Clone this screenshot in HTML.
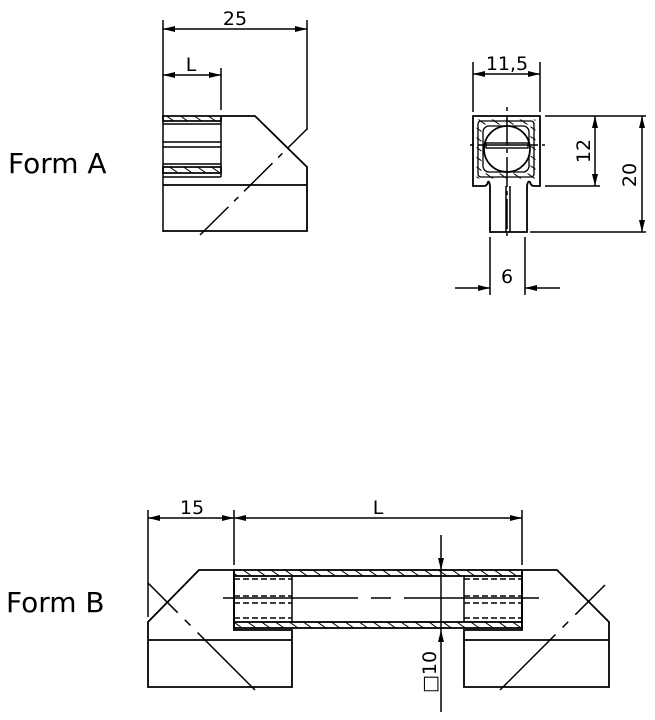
<!DOCTYPE html>
<html><head><style>
html,body{margin:0;padding:0;background:#fff;}
svg{display:block;}
text{font-family:"DejaVu Sans","Liberation Sans",sans-serif;fill:#000;}
</style></head><body>
<svg width="655" height="720" viewBox="0 0 655 720" xmlns="http://www.w3.org/2000/svg">
<defs>
<marker id="a" viewBox="0 0 12 6" refX="12" refY="3" markerWidth="12" markerHeight="6" orient="auto-start-reverse" markerUnits="userSpaceOnUse"><path d="M0,0L12,3L0,6z" fill="#000"/></marker>
<pattern id="h" width="8" height="8" patternUnits="userSpaceOnUse" patternTransform="rotate(-55)"><line x1="0" y1="0" x2="0" y2="8" stroke="#000" stroke-width="2"/></pattern>
</defs>
<g stroke="#000" fill="none" stroke-width="1.5">
<!-- FORM A side -->
<line x1="163" y1="20" x2="163" y2="232"/>
<line x1="307" y1="20" x2="307" y2="130"/>
<line x1="163" y1="29" x2="307" y2="29" marker-start="url(#a)" marker-end="url(#a)"/>
<line x1="221" y1="68" x2="221" y2="110"/>
<line x1="163" y1="75" x2="221" y2="75" marker-start="url(#a)" marker-end="url(#a)"/>
<rect x="163" y="116" width="58" height="5" fill="url(#h)" stroke-width="1.7"/>
<line x1="163" y1="124" x2="221" y2="124"/>
<line x1="163" y1="142" x2="221" y2="142"/>
<line x1="163" y1="147" x2="221" y2="147"/>
<line x1="163" y1="164" x2="221" y2="164"/>
<rect x="163" y="167" width="58" height="6" fill="url(#h)" stroke-width="1.7"/>
<line x1="163" y1="177" x2="221" y2="177"/>
<line x1="221" y1="116" x2="221" y2="177"/>
<polyline points="221,116 255,116 307,167 307,231 163,231" stroke-width="1.8"/>
<line x1="163" y1="185" x2="307" y2="185" stroke-width="1.8"/>
<line x1="200" y1="235" x2="307" y2="129" stroke-dasharray="40,8,6,8"/>
<!-- FORM A end view -->
<line x1="473" y1="62" x2="473" y2="112"/>
<line x1="540" y1="62" x2="540" y2="112"/>
<line x1="473" y1="74" x2="540" y2="74" marker-start="url(#a)" marker-end="url(#a)"/>
<path d="M479,122h54v54h-54z" stroke-width="5" stroke="url(#h)"/>
<rect x="478" y="121" width="56" height="56" rx="3" stroke-width="1.3"/>
<rect x="483" y="126" width="46" height="46" rx="6" stroke-width="1.3"/>
<circle cx="507" cy="149" r="23" fill="#fff" stroke-width="1.7"/>
<rect x="486" y="143" width="42" height="5" stroke-width="1.4"/>
<line x1="507" y1="107" x2="507" y2="236" stroke-dasharray="4,4,30,4"/>
<line x1="470" y1="145" x2="545" y2="145" stroke-dasharray="4,4,60,4"/>
<path d="M473,116H540V186H534Q531,186 530,182Q528,180 527,186V232H490V186Q489,180 488,182Q487,186 484,186H473Z" stroke-width="1.8"/>
<line x1="506" y1="186" x2="506" y2="232"/>
<line x1="510" y1="186" x2="510" y2="232"/>
<line x1="545" y1="116" x2="646" y2="116"/>
<line x1="545" y1="186" x2="600" y2="186"/>
<line x1="530" y1="232" x2="646" y2="232"/>
<line x1="595" y1="116" x2="595" y2="186" marker-start="url(#a)" marker-end="url(#a)"/>
<line x1="642" y1="116" x2="642" y2="232" marker-start="url(#a)" marker-end="url(#a)"/>
<line x1="490" y1="237" x2="490" y2="295"/>
<line x1="525" y1="237" x2="525" y2="295"/>
<line x1="455" y1="288" x2="490" y2="288" marker-end="url(#a)"/>
<line x1="560" y1="288" x2="525" y2="288" marker-end="url(#a)"/>
<!-- FORM B -->
<line x1="148" y1="510" x2="148" y2="617"/>
<line x1="234" y1="510" x2="234" y2="565"/>
<line x1="522" y1="510" x2="522" y2="565"/>
<line x1="148" y1="518" x2="234" y2="518" marker-start="url(#a)" marker-end="url(#a)"/>
<line x1="234" y1="518" x2="522" y2="518" marker-start="url(#a)" marker-end="url(#a)"/>
<path d="M234,570H199L148,622V687H292V630H234Z" stroke-width="1.8"/>
<path d="M522,570H557L609,622V687H464V630H522Z" stroke-width="1.8"/>
<line x1="148" y1="640" x2="292" y2="640" stroke-width="1.8"/>
<line x1="464" y1="640" x2="609" y2="640" stroke-width="1.8"/>
<rect x="234" y="570" width="288" height="6" fill="url(#h)" stroke-width="1.8"/>
<rect x="234" y="622" width="288" height="6" fill="url(#h)" stroke-width="1.8"/>
<line x1="234" y1="576" x2="234" y2="622" stroke-width="1.8"/>
<line x1="522" y1="576" x2="522" y2="622" stroke-width="1.8"/>
<line x1="292" y1="576" x2="292" y2="622"/>
<line x1="464" y1="576" x2="464" y2="622"/>
<g stroke-dasharray="6,3">
<line x1="234" y1="579" x2="292" y2="579"/><line x1="234" y1="596" x2="292" y2="596"/>
<line x1="234" y1="603" x2="292" y2="603"/><line x1="234" y1="618" x2="292" y2="618"/>
<line x1="464" y1="579" x2="522" y2="579"/><line x1="464" y1="596" x2="522" y2="596"/>
<line x1="464" y1="603" x2="522" y2="603"/><line x1="464" y1="618" x2="522" y2="618"/>
</g>
<line x1="223" y1="598" x2="539" y2="598" stroke-dasharray="135,13,20,13"/>
<line x1="441" y1="535" x2="441" y2="570" marker-end="url(#a)"/>
<line x1="441" y1="570" x2="441" y2="630"/>
<line x1="441" y1="712" x2="441" y2="630" marker-end="url(#a)"/>
<line x1="148" y1="583" x2="255" y2="690" stroke-dasharray="42,10,8,10,90"/>
<line x1="605" y1="585" x2="500" y2="690" stroke-dasharray="42,10,8,10,90"/>
</g>
<text x="235" y="25" font-size="19" text-anchor="middle">25</text>
<text x="191" y="71" font-size="19" text-anchor="middle">L</text>
<text x="507" y="70" font-size="19" text-anchor="middle">11,5</text>
<text x="507" y="283" font-size="19" text-anchor="middle">6</text>
<text transform="translate(590,151) rotate(-90)" font-size="19" text-anchor="middle">12</text>
<text transform="translate(636,175) rotate(-90)" font-size="19" text-anchor="middle">20</text>
<text x="192" y="514" font-size="19" text-anchor="middle">15</text>
<text x="378" y="514" font-size="19" text-anchor="middle">L</text>
<text transform="translate(436,672) rotate(-90)" font-size="19" text-anchor="middle">□10</text>
<text x="8" y="173" font-size="28">Form A</text>
<text x="6" y="612" font-size="28">Form B</text>
</svg>
</body></html>
